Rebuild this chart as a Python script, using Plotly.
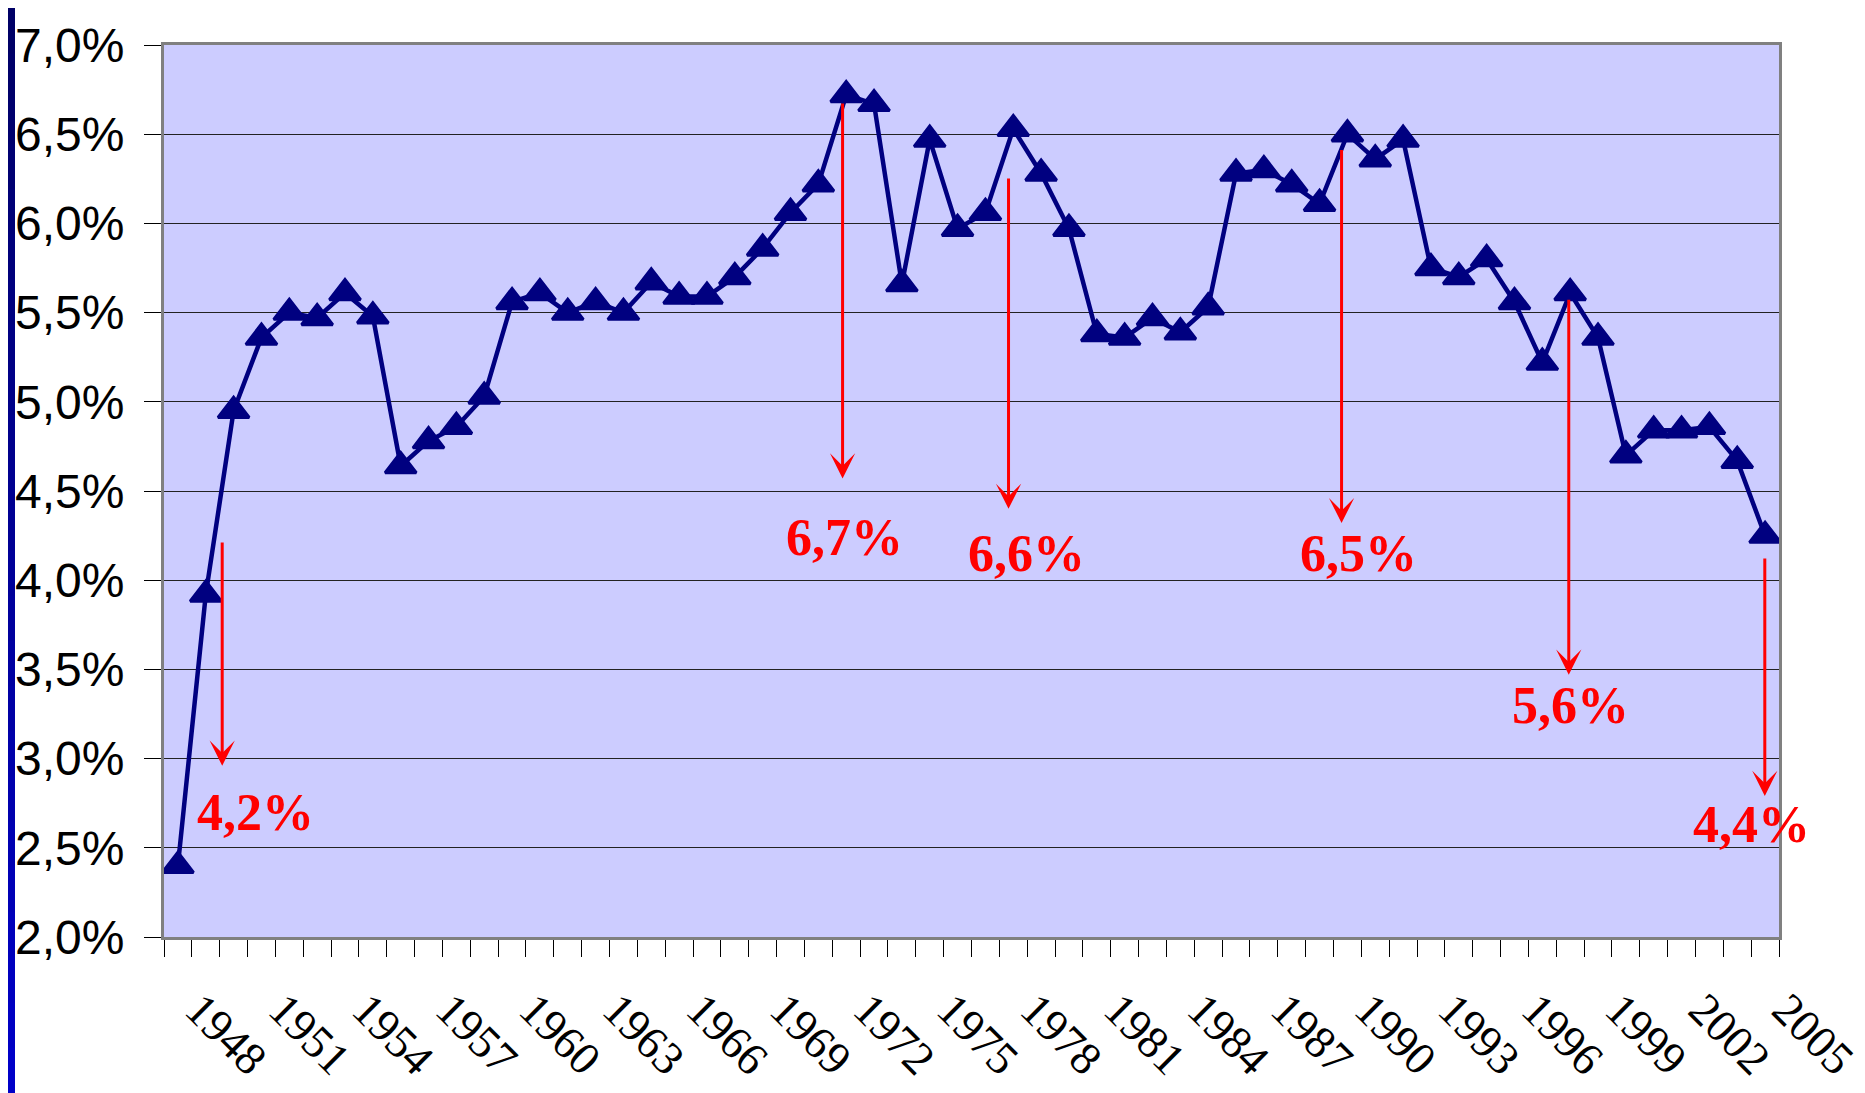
import plotly.graph_objects as go

# jährliche Werte, 1948-2005 (in %)
years = list(range(1948, 2006))
rates = [
    2.40, 3.92, 4.95, 5.36, 5.50, 5.47, 5.61, 5.48, 4.64, 4.78,
    4.86, 5.03, 5.56, 5.61, 5.50, 5.56, 5.50, 5.67, 5.59, 5.59,
    5.70, 5.86, 6.06, 6.22, 6.72, 6.67, 5.66, 6.47, 5.97, 6.06,
    6.53, 6.28, 5.97, 5.38, 5.36, 5.47, 5.39, 5.53, 6.28, 6.30,
    6.22, 6.11, 6.50, 6.36, 6.47, 5.75, 5.70, 5.80, 5.56, 5.22,
    5.61, 5.36, 4.70, 4.84, 4.84, 4.86, 4.67, 4.25,
]
tick_years = list(range(1948, 2006, 3))
tick_labels = [str(year) for year in tick_years]
y_ticks = [2.0, 2.5, 3.0, 3.5, 4.0, 4.5, 5.0, 5.5, 6.0, 6.5, 7.0]

callout_labels = ["4,2%", "6,7%", "6,6%", "6,5%", "5,6%", "4,4%"]

# the page body adds 8px around the figure
WIDTH, HEIGHT = 1857, 1085
MARGIN = {"l": 156, "r": 86, "t": 37, "b": 156, "pad": 0}
NAVY = "#000080"
RED = "#ff0000"


def frac(values):
    return [v / 100 for v in values]


# arrow x, arrow start/end (%), label x, label y (%)
arrow_x = [1949.59, 1971.87, 1977.83, 1989.79, 1997.95, 2004.99]
arrow_from = [4.22, 6.68, 6.26, 6.42, 5.58, 4.13]
arrow_to = [2.96, 4.57, 4.40, 4.32, 3.47, 2.79]
label_x = [1950.79, 1971.95, 1978.48, 1990.41, 1998.02, 2004.52]
label_y = [2.70, 4.24, 4.15, 4.15, 3.30, 2.63]

fig = go.Figure()
fig.add_trace(
    go.Scatter(
        x=years,
        y=frac(rates),
        mode="lines+markers",
        line={"color": NAVY, "width": 4.5},
        marker={"symbol": "triangle-up", "size": 27, "color": NAVY, "line": {"color": NAVY, "width": 3}},
        showlegend=False,
        hoverinfo="skip",
    )
)

annotations = []
for ax_, y0, y1 in zip(arrow_x, arrow_from, arrow_to):
    annotations.append(
        dict(
            x=ax_, y=y1 / 100, ax=ax_, ay=y0 / 100,
            xref="x", yref="y", axref="x", ayref="y",
            text="", showarrow=True,
            arrowhead=3, arrowsize=1.4, arrowwidth=3, arrowcolor=RED,
        )
    )
for text, lx, ly in zip(callout_labels, label_x, label_y):
    annotations.append(
        dict(
            x=lx, y=ly / 100, xref="x", yref="y", text=text, showarrow=False,
            font={"family": "Liberation Serif", "size": 52, "color": RED, "weight": "bold"},
            xanchor="center", yanchor="middle",
        )
    )

# dunkelblauer Streifen am linken Rand
plot_w = WIDTH - MARGIN["l"] - MARGIN["r"]
plot_h = HEIGHT - MARGIN["t"] - MARGIN["b"]
shapes = []
bands = 24
for i in range(bands):
    t = i / (bands - 1)
    blue = int(0x66 + (0xc8 - 0x66) * t)
    shapes.append(
        dict(
            type="rect", xref="paper", yref="paper", layer="above",
            x0=-MARGIN["l"] / plot_w, x1=(7 - MARGIN["l"]) / plot_w,
            y0=1 + MARGIN["t"] / plot_h - (i + 1) * (HEIGHT / bands) / plot_h - 0.001,
            y1=1 + MARGIN["t"] / plot_h - i * (HEIGHT / bands) / plot_h,
            line={"width": 0}, fillcolor=f"rgb(0,0,{blue})",
        )
    )

fig.update_layout(
    width=WIDTH,
    height=HEIGHT,
    margin=MARGIN,
    paper_bgcolor="white",
    plot_bgcolor="#ccccff",
    separators=",.",
    annotations=annotations,
    shapes=shapes,
    font={"family": "Liberation Sans", "color": "black"},
)
fig.update_xaxes(
    range=[1947.5, 2005.5],
    automargin=False,
    tickmode="array",
    tickvals=tick_years,
    ticktext=tick_labels,
    tickangle=45,
    ticks="",
    ticklabelstandoff=24,
    ticklabelshift=21,
    ticklabeloverflow="allow",
    tickfont={"family": "Liberation Serif", "size": 46, "color": "black"},
    minor={"tickmode": "linear", "tick0": 1947.5, "dtick": 1, "ticks": "outside", "ticklen": 17,
           "tickcolor": "black", "tickwidth": 1, "showgrid": False},
    showgrid=False,
    zeroline=False,
    showline=True,
    linecolor="#808080",
    linewidth=3,
    mirror=True,
)
fig.update_yaxes(
    range=[0.02, 0.07],
    automargin=False,
    tickmode="array",
    tickvals=frac(y_ticks),
    tickformat=".1%",
    ticks="outside",
    ticklen=17,
    tickcolor="black",
    ticklabelstandoff=10,
    tickfont={"family": "Liberation Sans", "size": 48, "color": "black"},
    showgrid=True,
    gridcolor="#222222",
    gridwidth=1,
    zeroline=False,
    showline=True,
    linecolor="#808080",
    linewidth=3,
    mirror=True,
)

fig.write_html("out.html")
